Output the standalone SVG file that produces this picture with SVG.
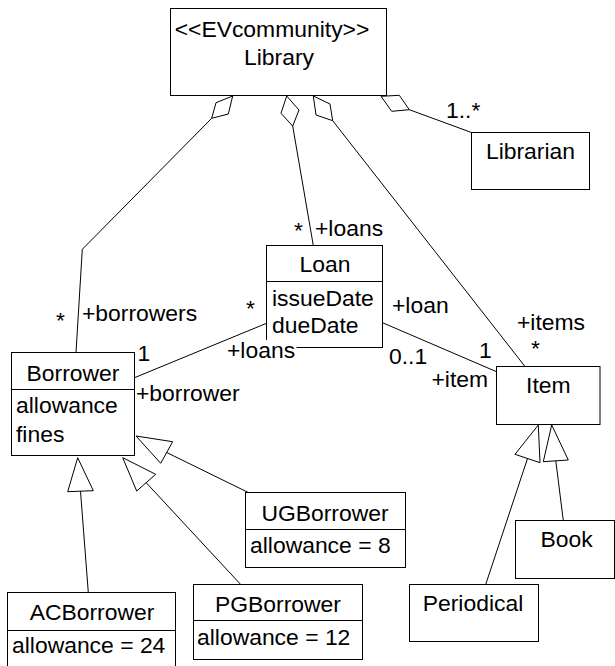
<svg xmlns="http://www.w3.org/2000/svg" width="615" height="666" viewBox="0 0 615 666">
<style>
.box{fill:#fff;stroke:#000;stroke-width:1}
.ln{fill:none;stroke:#000;stroke-width:1}
.dia{fill:#fff;stroke:#000;stroke-width:1}
.tri{fill:#fff;stroke:#000;stroke-width:1}
text{font-family:"Liberation Sans",Arial,sans-serif;font-size:22.9px;fill:#000}
.c{text-anchor:middle}
</style>
<rect x="0" y="0" width="615" height="666" fill="#fff"/>
<g id="connectors">
<polygon class="dia" points="232.7,96 216,102.7 211.7,118.3 228.3,114"/>
<polyline class="ln" points="211.7,118.3 82.3,249.3 76,352.5"/>
<polygon class="dia" points="286.7,96 299,110 292.7,126 281,113.3"/>
<line class="ln" x1="292.7" y1="126" x2="313.3" y2="245.5"/>
<polygon class="dia" points="313.3,96 330,104 332.7,120.7 316,115"/>
<line class="ln" x1="332.7" y1="120.7" x2="525" y2="366.5"/>
<polygon class="dia" points="381,96.3 399.3,95.3 409.3,109.7 391.7,111.3"/>
<line class="ln" x1="409.3" y1="109.7" x2="471.5" y2="132.5"/>
<line class="ln" x1="134.5" y1="377.7" x2="266.5" y2="323.3"/>
<line class="ln" x1="382.5" y1="322.7" x2="496.5" y2="371.7"/>
<polygon class="tri" points="136,436 172.7,441.7 160.7,463.3"/>
<line class="ln" x1="166.7" y1="452.5" x2="248.3" y2="492.5"/>
<polygon class="tri" points="122.7,457.7 155.7,474.3 136.7,491"/>
<line class="ln" x1="146.2" y1="482.7" x2="240.7" y2="584.5"/>
<polygon class="tri" points="77.7,457.7 93.3,490.7 67.7,491.7"/>
<line class="ln" x1="80.5" y1="491.2" x2="88.3" y2="592.5"/>
<polygon class="tri" points="538.3,425 540,462.7 515,454.3"/>
<line class="ln" x1="527.5" y1="458.5" x2="485.7" y2="584.5"/>
<polygon class="tri" points="551.7,425 568.3,460 543.3,461.7"/>
<line class="ln" x1="555.8" y1="460.8" x2="563.3" y2="520.5"/>
</g>
<g id="Library">
<rect class="box" x="170.5" y="8.5" width="216" height="87"/>
<text class="c" x="272" y="37">&lt;&lt;EVcommunity&gt;&gt;</text>
<text class="c" x="279" y="65">Library</text>
</g>
<g id="Librarian">
<rect class="box" x="471.5" y="132.5" width="118" height="57"/>
<text class="c" x="530.5" y="159">Librarian</text>
</g>
<g id="Loan">
<rect class="box" x="266.5" y="245.5" width="116" height="102"/>
<line class="ln" x1="266.5" y1="281.5" x2="382.5" y2="281.5"/>
<text class="c" x="325" y="272">Loan</text>
<text x="272" y="306">issueDate</text>
<text x="272" y="333">dueDate</text>
</g>
<g id="Borrower">
<rect class="box" x="11.5" y="352.5" width="123" height="103"/>
<line class="ln" x1="11.5" y1="389.5" x2="134.5" y2="389.5"/>
<text class="c" x="73" y="381">Borrower</text>
<text x="16" y="413">allowance</text>
<text x="16" y="442">fines</text>
</g>
<g id="UGBorrower">
<rect class="box" x="245.5" y="492.5" width="160" height="75"/>
<line class="ln" x1="245.5" y1="529.5" x2="405.5" y2="529.5"/>
<text class="c" x="325" y="521">UGBorrower</text>
<text x="250" y="553">allowance = 8</text>
</g>
<g id="PGBorrower">
<rect class="box" x="193.5" y="584.5" width="169" height="75"/>
<line class="ln" x1="193.5" y1="620.5" x2="362.5" y2="620.5"/>
<text class="c" x="278" y="612">PGBorrower</text>
<text x="197" y="645">allowance = 12</text>
</g>
<g id="ACBorrower">
<rect class="box" x="7.5" y="592.5" width="168" height="90"/>
<line class="ln" x1="7.5" y1="630.5" x2="175.5" y2="630.5"/>
<text class="c" x="92" y="620">ACBorrower</text>
<text x="12" y="653">allowance = 24</text>
</g>
<g id="Item">
<rect class="box" x="496.5" y="366.5" width="103.5" height="58"/>
<text class="c" x="548.3" y="393">Item</text>
</g>
<g id="Periodical">
<rect class="box" x="409.5" y="584.5" width="129" height="57"/>
<text class="c" x="473" y="611">Periodical</text>
</g>
<g id="Book">
<rect class="box" x="515.5" y="520.5" width="99" height="58"/>
<text class="c" x="566.5" y="547">Book</text>
</g>
<g id="labels">
<text x="446" y="118">1..*</text>
<text x="294" y="238">*</text>
<text x="315" y="236">+loans</text>
<text x="56" y="328">*</text>
<text x="82" y="321">+borrowers</text>
<text x="246" y="316">*</text>
<text x="137.5" y="361">1</text>
<text x="136" y="401">+borrower</text>
<rect x="228" y="340" width="68.5" height="22" fill="#fff"/>
<text x="227" y="358">+loans</text>
<text x="392" y="313">+loan</text>
<text x="389" y="364">0..1</text>
<text x="479" y="358">1</text>
<text x="431.5" y="387">+item</text>
<text x="517" y="330">+items</text>
<text x="531" y="356">*</text>
</g>
</svg>
